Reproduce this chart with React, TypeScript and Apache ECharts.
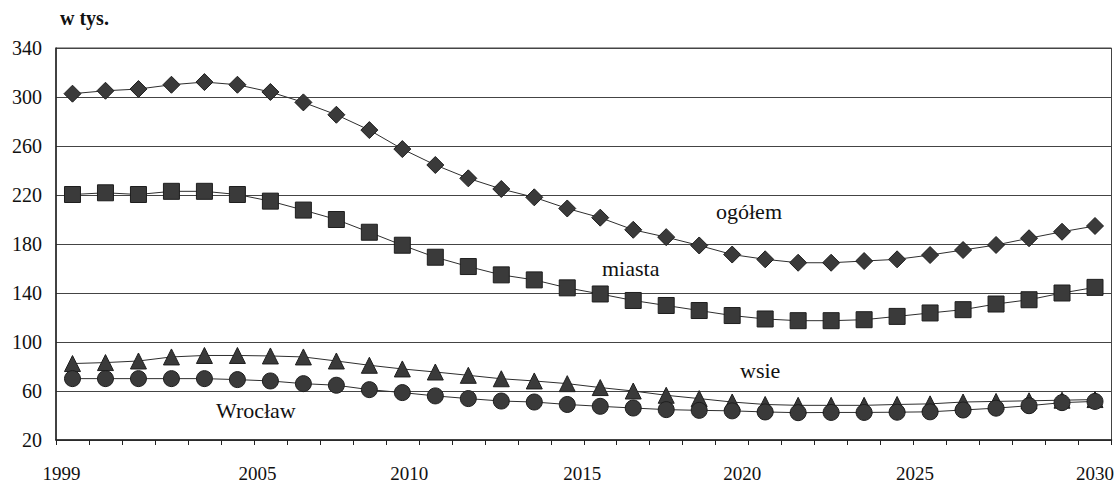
import React, { useEffect, useRef } from "react";
import * as echarts from "echarts";

const years: string[] = [];
for (let y = 1999; y <= 2030; y++) years.push(String(y));
const shownYears = ["1999", "2005", "2010", "2015", "2020", "2025", "2030"];

const ogolem = [302.7, 305.1, 306.5, 310, 312.2, 310, 304.1, 295.6, 285.5, 273, 257.5, 244.5, 233.6, 224.9, 218.1, 209, 201.5, 191.6, 185.6, 178.8, 171.4, 167.5, 164.7, 164.7, 166.1, 167.5, 171, 175.1, 179.2, 184.7, 190, 194.7];
const miasta = [220.4, 221.8, 220.4, 223, 223, 220.4, 215, 207.7, 200, 189.6, 179, 169.2, 161.6, 154.8, 150.7, 144.2, 139.2, 133.9, 129.8, 125.7, 121.6, 118.8, 117.4, 117.4, 118.2, 120.9, 123.7, 126.4, 131, 134.5, 140, 144.6];
const wsie = [82.4, 83.2, 84.5, 87.8, 89, 89, 88.6, 87.8, 84.5, 81, 78, 75.5, 72.8, 70, 68.2, 66, 62.8, 60, 56.5, 53.8, 51, 49, 48.3, 48.3, 48.3, 49, 49.5, 51, 51.5, 52, 52.5, 53];
const wroclaw = [70.1, 70.1, 70.1, 70.1, 70.1, 69.3, 68.2, 66, 64.7, 61.1, 58.7, 56, 53.8, 51.8, 51, 49, 47.5, 46.1, 44.8, 44.2, 43.8, 42.9, 42.3, 42.5, 42.5, 42.7, 43, 44.5, 46, 48, 50.5, 51.5];

// leftward shift (px) of each printed year label, as placed in the original scan
const labelShift: Record<string, number> = { "1999": 11, "2005": 13, "2010": 26, "2015": 18, "2020": 23, "2025": 15, "2030": 0 };

const FONT = "'Liberation Serif', 'Times New Roman', serif";
const LINE = "#2e2e2e";
const MARK = "#3a3a3a";

export default function App() {
  const ref = useRef<HTMLDivElement>(null);
  useEffect(() => {
    if (!ref.current) return;
    const chart = echarts.init(ref.current, null, { renderer: "svg" });
    const mk = (name: string, data: number[], symbol: string, size: number) => ({
      name,
      type: "line",
      data,
      symbol,
      symbolSize: size,
      showSymbol: true,
      lineStyle: { color: LINE, width: 1 },
      itemStyle: { color: MARK, borderColor: "#1e1e1e", borderWidth: 1 },
      z: 3,
    });
    const rich: Record<string, any> = {};
    shownYears.forEach((y) => {
      rich["y" + y] = {
        fontFamily: FONT,
        fontSize: 19,
        color: "#111",
        padding: [0, labelShift[y] * 2, 0, 0],
      };
    });
    chart.setOption({
      animation: false,
      backgroundColor: "#ffffff",
      grid: {
        left: 56,
        right: 5,
        top: 48,
        bottom: 43,
        show: true,
        borderColor: "#444",
        borderWidth: 1,
      },
      xAxis: {
        type: "category",
        data: years,
        boundaryGap: true,
        axisLine: { show: true, lineStyle: { color: "#222", width: 1.5 } },
        axisTick: { show: true, length: 5, lineStyle: { color: "#222" }, alignWithLabel: false, interval: 0 },
        axisLabel: {
          interval: 0,
          margin: 24,
          fontFamily: FONT,
          fontSize: 19,
          color: "#111",
          rich,
          formatter: (v: string) => (shownYears.includes(v) ? `{y${v}|${v}}` : ""),
        },
        splitLine: { show: false },
      },
      yAxis: {
        type: "value",
        min: 20,
        max: 340,
        interval: 40,
        axisLine: { show: true, lineStyle: { color: "#222", width: 1.5 } },
        axisTick: { show: false },
        axisLabel: { margin: 14, fontFamily: FONT, fontSize: 20, color: "#111" },
        splitLine: { show: true, lineStyle: { color: "#444", width: 1 } },
      },
      series: [
        mk("ogółem", ogolem, "diamond", 17),
        mk("miasta", miasta, "rect", 16),
        mk("wsie", wsie, "triangle", 16),
        mk("Wrocław", wroclaw, "circle", 16),
      ],
      graphic: [
        { type: "text", left: 60, top: 8, style: { text: "w tys.", font: `bold 20px ${FONT}`, fill: "#111" } },
        { type: "text", left: 716, top: 200, style: { text: "ogółem", font: `22px ${FONT}`, fill: "#111" } },
        { type: "text", left: 602, top: 257, style: { text: "miasta", font: `22px ${FONT}`, fill: "#111" } },
        { type: "text", left: 740, top: 359, style: { text: "wsie", font: `22px ${FONT}`, fill: "#111" } },
        { type: "text", left: 216, top: 399, style: { text: "Wrocław", font: `22px ${FONT}`, fill: "#111" } },
      ],
    });
    return () => chart.dispose();
  }, []);
  return (
    <div
      ref={ref}
      style={{ position: "fixed", left: 0, top: 0, width: 1117, height: 483, background: "#fff" }}
    />
  );
}
